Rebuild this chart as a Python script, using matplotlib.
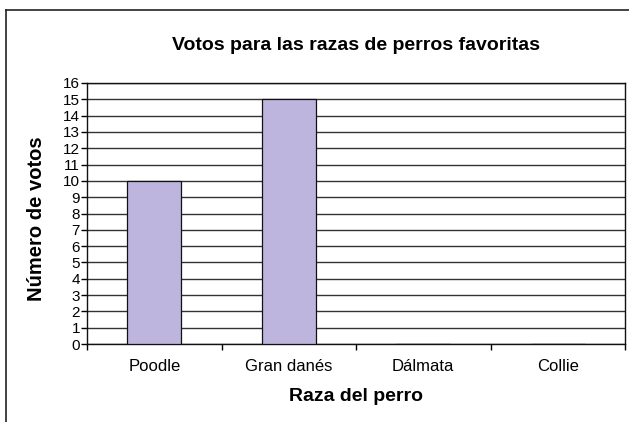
import matplotlib
matplotlib.use("Agg")
import matplotlib.pyplot as plt
from matplotlib.lines import Line2D

categories = ["Poodle", "Gran danés", "Dálmata", "Collie"]
votes = [10, 15, 0, 0]
yticks = list(range(0, 17))

plt.rcParams['font.family'] = ['Liberation Sans', 'DejaVu Sans']

fig = plt.figure(figsize=(6.29, 4.22), dpi=100)
ax = fig.add_axes([87/629, (422-344)/422, (625-87)/629, (344-83)/422])

x = list(range(len(categories)))
ax.bar(x, votes, width=0.40, color="#bdb5dd", edgecolor="#111111", linewidth=0.9, zorder=3)

ax.set_xlim(-0.5, len(categories) - 0.5)
ax.set_ylim(0, 16)
ax.set_yticks(yticks)
ax.set_yticklabels([str(v) for v in yticks], fontsize=11)
ax.yaxis.grid(True, color="#333333", linewidth=1.0, zorder=0)
ax.set_axisbelow(True)

ax.set_xticks([i + 0.5 for i in range(-1, len(categories))])
ax.set_xticklabels([])
ax.set_xticks(x, minor=True)
ax.set_xticklabels(categories, minor=True, fontsize=12)
ax.tick_params(axis='x', which='minor', length=0, pad=11)
ax.tick_params(axis='x', which='major', length=4, width=1, direction='out')
ax.tick_params(axis='y', length=4, width=1, direction='out', pad=1)

for s in ax.spines.values():
    s.set_color("#111111")
    s.set_linewidth(1.0)

ax.set_title("Votos para las razas de perros favoritas", fontsize=14,
             fontweight='bold', pad=24)
ax.set_xlabel("Raza del perro", fontsize=14, fontweight='bold', labelpad=10)
ax.set_ylabel("Número de votos", fontsize=14.5, fontweight='bold')
ax.yaxis.set_label_coords(-0.076, 0.48)

# partial frame (left and top borders)
fig.add_artist(Line2D([6/629, 6/629], [0, 1 - 10/422], color="#222222", linewidth=1.2,
                      transform=fig.transFigure))
fig.add_artist(Line2D([6/629, 1], [1 - 10/422, 1 - 10/422], color="#222222", linewidth=1.2,
                      transform=fig.transFigure))

fig.savefig("out.png", dpi=100)
